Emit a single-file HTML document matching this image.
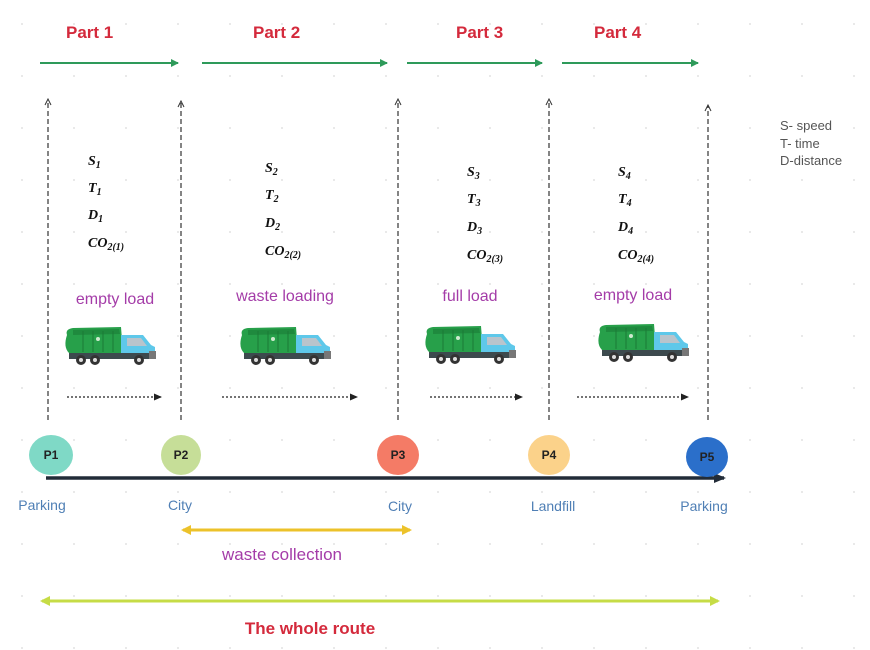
<!DOCTYPE html>
<html><head><meta charset="utf-8"><style>
html,body{margin:0;padding:0;background:#fff}
svg{display:block}
text{font-family:"Liberation Sans",sans-serif}
.v text{font-family:"Liberation Serif",serif;font-style:italic;font-weight:bold;font-size:14px;fill:#111}
.v tspan.s{font-size:10px}
.p{font-size:16px;fill:#a43ca8}
.loc{font-size:14px;fill:#4f7fb5}
.pt{font-size:17px;font-weight:bold;fill:#d42a3c}
.c{font-size:12px;font-weight:bold;fill:#222}
</style></head><body>
<svg width="870" height="650" viewBox="0 0 870 650" xmlns="http://www.w3.org/2000/svg">
<defs>
<pattern id="dots" width="52" height="52" patternUnits="userSpaceOnUse" x="20" y="22">
<circle cx="2" cy="2" r="1" fill="#e2e2e2"/>
</pattern>
<marker id="ga" markerWidth="8" markerHeight="8" refX="7" refY="4" orient="auto" markerUnits="userSpaceOnUse"><path d="M0,0 L8,4 L0,8z" fill="#2e9a5a"/></marker>
<marker id="ka" markerWidth="8" markerHeight="8" refX="7" refY="4" orient="auto" markerUnits="userSpaceOnUse"><path d="M0,0.5 L8,4 L0,7.5z" fill="#222"/></marker>
<marker id="ta" markerWidth="8" markerHeight="8" refX="6" refY="4" orient="auto" markerUnits="userSpaceOnUse"><path d="M1,1 L7,4 L1,7" fill="none" stroke="#333" stroke-width="1"/></marker>
<marker id="ya" markerWidth="10" markerHeight="10" refX="8" refY="5" orient="auto-start-reverse" markerUnits="userSpaceOnUse"><path d="M0,0 L10,5 L0,10z" fill="#ecc22a"/></marker>
<marker id="la" markerWidth="10" markerHeight="10" refX="8" refY="5" orient="auto-start-reverse" markerUnits="userSpaceOnUse"><path d="M0,0 L10,5 L0,10z" fill="#c6dc46"/></marker>
<marker id="ba" markerWidth="12" markerHeight="12" refX="10" refY="6" orient="auto" markerUnits="userSpaceOnUse"><path d="M0,1 L12,6 L0,11z" fill="#222c38"/></marker>
<g id="truck">
<path d="M4,10 Q2,4 10,3 L58,2 L60,28 L6,28 Q0,22 4,10z" fill="#27a04a"/>
<path d="M10,5 L56,4 L57,9 L10,10z" fill="#1f8a3e"/>
<g stroke="#1b7a36" stroke-width="1"><line x1="20" y1="6" x2="20" y2="27"/><line x1="30" y1="6" x2="30" y2="27"/><line x1="40" y1="6" x2="40" y2="27"/><line x1="50" y1="6" x2="50" y2="27"/></g>
<circle cx="35" cy="14" r="2" fill="#cfe9cf"/>
<path d="M58,10 L80,10 L88,20 L92,22 L92,33 L58,33z" fill="#5ec8ea"/>
<path d="M64,13 L78,13 L84,21 L64,21z" fill="#b9c4cc"/>
<rect x="6" y="28" width="86" height="6" fill="#3d4a4e"/>
<circle cx="18" cy="35" r="5" fill="#333"/><circle cx="18" cy="35" r="2" fill="#ddd"/>
<circle cx="32" cy="35" r="5" fill="#333"/><circle cx="32" cy="35" r="2" fill="#ddd"/>
<circle cx="76" cy="35" r="5" fill="#333"/><circle cx="76" cy="35" r="2" fill="#ddd"/>
<rect x="86" y="26" width="7" height="8" fill="#777"/>
</g>
</defs>
<rect width="870" height="650" fill="url(#dots)"/>

<text class="pt" x="66" y="38">Part 1</text>
<text class="pt" x="253" y="38">Part 2</text>
<text class="pt" x="456" y="38">Part 3</text>
<text class="pt" x="594" y="38">Part 4</text>
<g stroke="#2e9a5a" stroke-width="2">
<line x1="40" y1="63" x2="178" y2="63" marker-end="url(#ga)"/>
<line x1="202" y1="63" x2="387" y2="63" marker-end="url(#ga)"/>
<line x1="407" y1="63" x2="542" y2="63" marker-end="url(#ga)"/>
<line x1="562" y1="63" x2="698" y2="63" marker-end="url(#ga)"/>
</g>

<g stroke="#333" stroke-width="1.2" stroke-dasharray="5,3">
<line x1="48" y1="420" x2="48" y2="100" marker-end="url(#ta)"/>
<line x1="181" y1="420" x2="181" y2="102" marker-end="url(#ta)"/>
<line x1="398" y1="420" x2="398" y2="100" marker-end="url(#ta)"/>
<line x1="549" y1="420" x2="549" y2="100" marker-end="url(#ta)"/>
<line x1="708" y1="420" x2="708" y2="106" marker-end="url(#ta)"/>
</g>

<g class="v">
<text x="88" y="165">S<tspan class="s" dy="3">1</tspan></text>
<text x="88" y="192">T<tspan class="s" dy="3">1</tspan></text>
<text x="88" y="219">D<tspan class="s" dy="3">1</tspan></text>
<text x="88" y="247">CO<tspan class="s" dy="3">2(1)</tspan></text>
<text x="265" y="172">S<tspan class="s" dy="3">2</tspan></text>
<text x="265" y="199">T<tspan class="s" dy="3">2</tspan></text>
<text x="265" y="227">D<tspan class="s" dy="3">2</tspan></text>
<text x="265" y="255">CO<tspan class="s" dy="3">2(2)</tspan></text>
<text x="467" y="176">S<tspan class="s" dy="3">3</tspan></text>
<text x="467" y="203">T<tspan class="s" dy="3">3</tspan></text>
<text x="467" y="231">D<tspan class="s" dy="3">3</tspan></text>
<text x="467" y="259">CO<tspan class="s" dy="3">2(3)</tspan></text>
<text x="618" y="176">S<tspan class="s" dy="3">4</tspan></text>
<text x="618" y="203">T<tspan class="s" dy="3">4</tspan></text>
<text x="618" y="231">D<tspan class="s" dy="3">4</tspan></text>
<text x="618" y="259">CO<tspan class="s" dy="3">2(4)</tspan></text>
</g>

<text class="p" x="115" y="304" text-anchor="middle">empty load</text>
<text class="p" x="285" y="301" text-anchor="middle">waste loading</text>
<text class="p" x="470" y="301" text-anchor="middle">full load</text>
<text class="p" x="633" y="300" text-anchor="middle">empty load</text>

<use href="#truck" x="63" y="325"/>
<use href="#truck" x="238" y="325"/>
<use href="#truck" x="423" y="324"/>
<use href="#truck" x="596" y="322"/>

<g stroke="#222" stroke-width="1.3" stroke-dasharray="2,2">
<line x1="67" y1="397" x2="161" y2="397" marker-end="url(#ka)"/>
<line x1="222" y1="397" x2="357" y2="397" marker-end="url(#ka)"/>
<line x1="430" y1="397" x2="522" y2="397" marker-end="url(#ka)"/>
<line x1="577" y1="397" x2="688" y2="397" marker-end="url(#ka)"/>
</g>

<line x1="46" y1="478" x2="724" y2="478" stroke="#222c38" stroke-width="3.5" marker-end="url(#ba)"/>
<ellipse cx="51" cy="455" rx="22" ry="20" fill="#7fd9c6"/>
<ellipse cx="181" cy="455" rx="20" ry="20" fill="#c6de98"/>
<ellipse cx="398" cy="455" rx="21" ry="20" fill="#f47b66"/>
<ellipse cx="549" cy="455" rx="21" ry="20" fill="#fbd28a"/>
<ellipse cx="707" cy="457" rx="21" ry="20" fill="#2b6fca"/>
<text class="c" x="51" y="459" text-anchor="middle">P1</text>
<text class="c" x="181" y="459" text-anchor="middle">P2</text>
<text class="c" x="398" y="459" text-anchor="middle">P3</text>
<text class="c" x="549" y="459" text-anchor="middle">P4</text>
<text class="c" x="707" y="461" text-anchor="middle" fill="#111">P5</text>

<text class="loc" x="42" y="510" text-anchor="middle">Parking</text>
<text class="loc" x="180" y="510" text-anchor="middle">City</text>
<text class="loc" x="400" y="511" text-anchor="middle">City</text>
<text class="loc" x="553" y="511" text-anchor="middle">Landfill</text>
<text class="loc" x="704" y="511" text-anchor="middle">Parking</text>

<line x1="183" y1="530" x2="410" y2="530" stroke="#ecc22a" stroke-width="3" marker-start="url(#ya)" marker-end="url(#ya)"/>
<text class="p" x="282" y="560" text-anchor="middle" style="font-size:17px">waste collection</text>

<line x1="42" y1="601" x2="718" y2="601" stroke="#c6dc46" stroke-width="3" marker-start="url(#la)" marker-end="url(#la)"/>
<text x="310" y="634" text-anchor="middle" style="font-size:17px;font-weight:bold;fill:#d42a3c">The whole route</text>

<g style="font-size:13px;fill:#555">
<text x="780" y="130">S- speed</text>
<text x="780" y="148">T- time</text>
<text x="780" y="165">D-distance</text>
</g>
</svg>
</body></html>
